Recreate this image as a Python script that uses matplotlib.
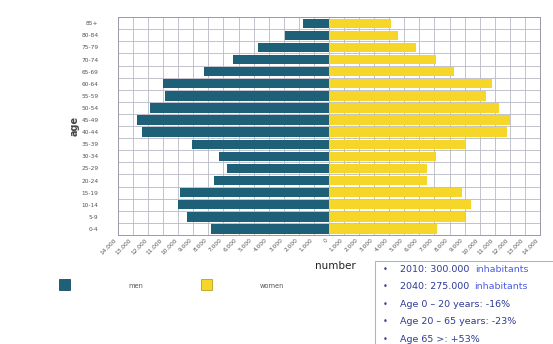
import matplotlib.pyplot as plt
from matplotlib.patches import Rectangle
from matplotlib.ticker import FixedLocator, FuncFormatter

# age groups, bottom to top
age_groups = ['0-4', '5-9', '10-14', '15-19', '20-24', '25-29', '30-34', '35-39',
              '40-44', '45-49', '50-54', '55-59', '60-64', '65-69', '70-74',
              '75-79', '80-84', '85+']
men = [7800, 9400, 10000, 9900, 7600, 6800, 7300, 9100, 12400, 12750,
       11900, 10900, 11000, 8300, 6400, 4700, 2900, 1700]
women = [7200, 9000, 9400, 8800, 6500, 6500, 7100, 9100, 11800, 12000,
         11300, 10400, 10800, 8300, 7100, 5800, 4600, 4100]

# summary lines: (bold-ish part, trailing part)
info_lines = [('2010: 300.000', 'inhabitants'),
              ('2040: 275.000', 'inhabitants'),
              ('Age 0 \u2013 20 years: -16%', ''),
              ('Age 20 \u2013 65 years: -23%', ''),
              ('Age 65 >: +53%', '')]

men_color = '#1d6078'
women_color = '#f6d628'

fig = plt.figure(figsize=(5.53, 3.44), dpi=100)
ax = fig.add_axes([0.2134, 0.317, 0.763, 0.633])

y = range(len(age_groups))
ax.barh(y, [-v for v in men], height=0.78, color=men_color, zorder=3)
ax.barh(y, women, height=0.78, color=women_color, zorder=3)

ax.set_xlim(-14000, 14000)
ax.set_ylim(-0.5, len(age_groups) - 0.5)

xt = list(range(-14000, 14001, 1000))
ax.xaxis.set_major_locator(FixedLocator(xt))


def thousands(v, pos):
    v = int(round(abs(v)))
    return '{:,}'.format(v).replace(',', '.')


ax.xaxis.set_major_formatter(FuncFormatter(thousands))
ax.set_yticks(list(y))
ax.set_yticklabels(age_groups)
ax.set_yticks([i - 0.5 for i in range(len(age_groups) + 1)], minor=True)

ax.grid(axis='x', which='major', color='#b8b8c4', linewidth=0.6, zorder=0)
ax.grid(axis='y', which='minor', color='#b8b8c4', linewidth=0.6, zorder=0)
ax.tick_params(axis='y', which='both', length=0, labelsize=4.2,
               labelcolor='#555555', pad=14)
ax.tick_params(axis='x', length=0, labelsize=4.2, labelcolor='#555555', pad=2)
for lab in ax.get_xticklabels():
    lab.set_rotation(45)
    lab.set_ha('right')
    lab.set_va('top')
for s in ax.spines.values():
    s.set_color('#9a9aa8')
    s.set_linewidth(0.7)

ax.set_ylabel('age', fontsize=7, fontweight='bold', color='#444444', labelpad=1)

fig.text(0.606, 0.218, 'number', fontsize=7.5, color='#222222', ha='center')

# legend boxes below the chart
fig.patches.append(Rectangle((0.107, 0.158), 0.019, 0.030, transform=fig.transFigure,
                             facecolor=men_color, edgecolor='#174d60', lw=0.6))
fig.text(0.245, 0.170, 'men', fontsize=4.8, color='#555555', ha='center', va='center')
fig.patches.append(Rectangle((0.364, 0.158), 0.019, 0.030, transform=fig.transFigure,
                             facecolor=women_color, edgecolor='#b8a020', lw=0.6))
fig.text(0.492, 0.170, 'women', fontsize=4.8, color='#555555', ha='center', va='center')

# summary box bottom right
fig.patches.append(Rectangle((0.678, -0.05), 0.34, 0.29, transform=fig.transFigure,
                             facecolor='white', edgecolor='#9fb8d8', lw=0.8))
renderer = fig.canvas.get_renderer()
for i, (head, tail) in enumerate(info_lines):
    yy = 0.218 - i * 0.051
    fig.text(0.693, yy, '\u2022', fontsize=6, color='#3a3f9a', va='center')
    t = fig.text(0.723, yy, head, fontsize=6.8, color='#2e3a96', va='center')
    if tail:
        bb = t.get_window_extent(renderer)
        x1 = fig.transFigure.inverted().transform((bb.x1, bb.y0))[0]
        fig.text(x1 + 0.010, yy, tail, fontsize=6.8, color='#4d5fe0', va='center')

fig.savefig('out.png', dpi=100)
